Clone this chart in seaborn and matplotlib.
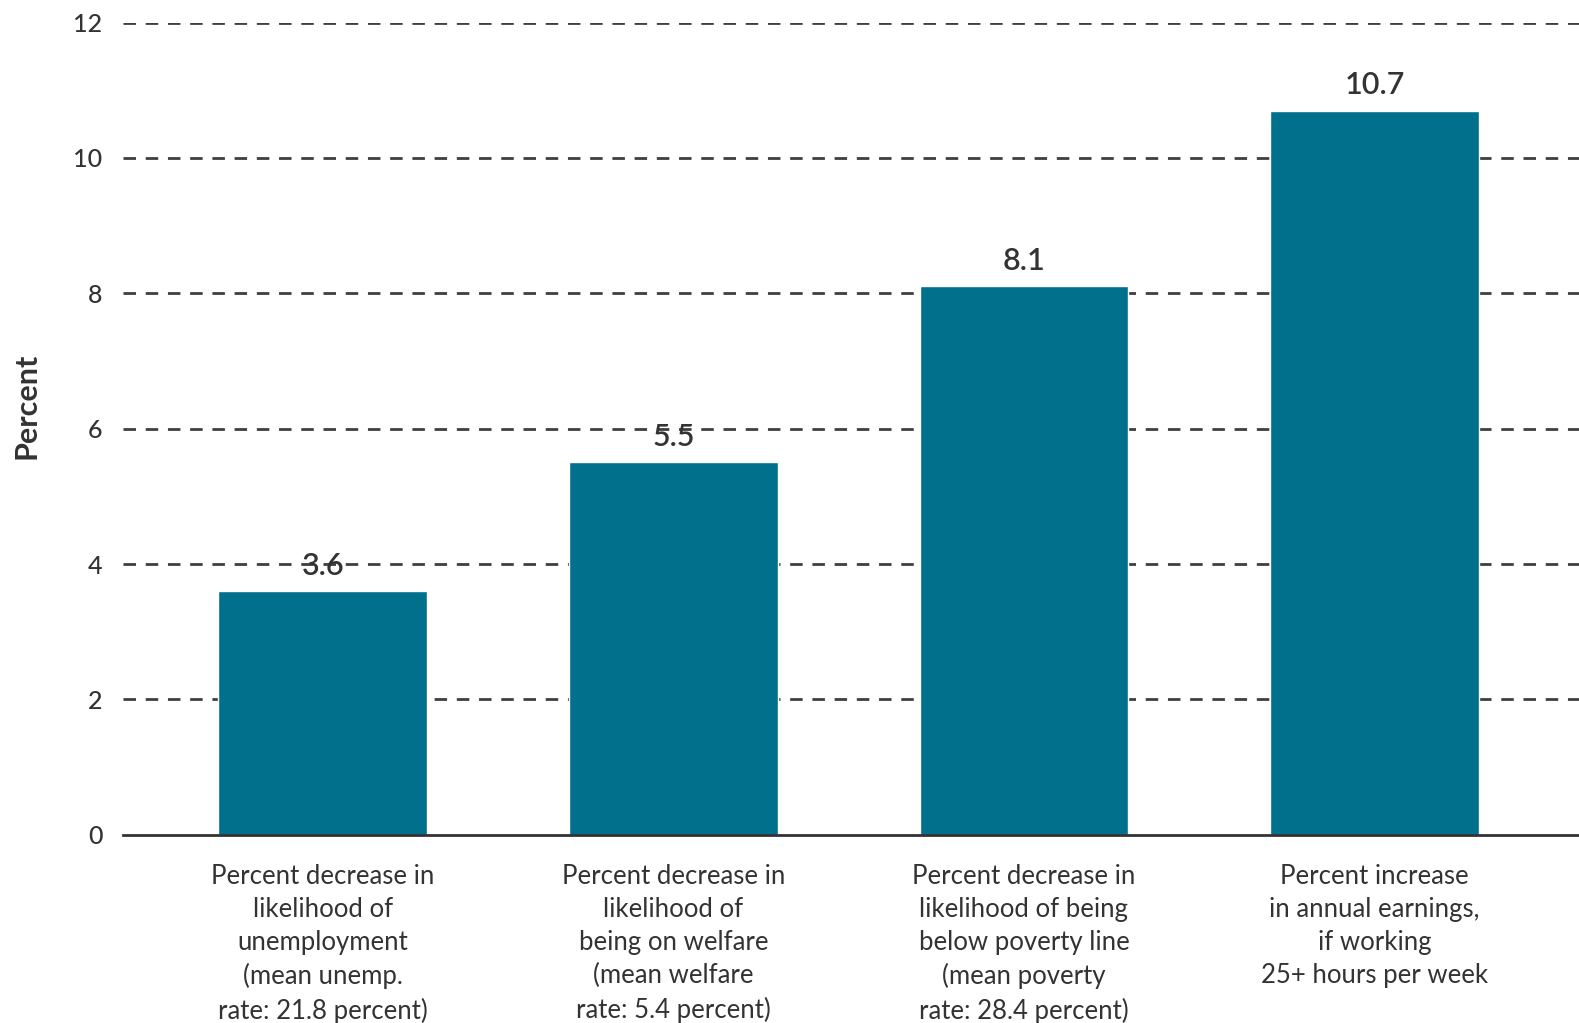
import matplotlib
matplotlib.use("Agg")
import matplotlib.pyplot as plt
import seaborn as sns
import pandas as pd

categories = [
    "Percent decrease in\nlikelihood of\nunemployment\n(mean unemp.\nrate: 21.8 percent)",
    "Percent decrease in\nlikelihood of\nbeing on welfare\n(mean welfare\nrate: 5.4 percent)",
    "Percent decrease in\nlikelihood of being\nbelow poverty line\n(mean poverty\nrate: 28.4 percent)",
    "Percent increase\nin annual earnings,\nif working\n25+ hours per week",
]
values = [3.6, 5.5, 8.1, 10.7]
value_labels = ["3.6", "5.5", "8.1", "10.7"]
yticks = [0, 2, 4, 6, 8, 10, 12]

sns.set_theme(style="white")
plt.rcParams["font.family"] = ["Lato", "DejaVu Sans"]

df = pd.DataFrame({"cat": categories, "val": values})

fig = plt.figure(figsize=(15.79, 10.23), dpi=100)
ax = fig.add_axes([0.078, 0.184, 0.922, 0.794])

for t in yticks[1:]:
    ax.axhline(t, color="#3f3f3f", lw=2, ls=(0, (4.5, 3.5)), zorder=0)

sns.barplot(data=df, x="cat", y="val", color="#00708C", saturation=1,
            width=0.595, ax=ax, zorder=2)

for i, (v, lab) in enumerate(zip(values, value_labels)):
    ax.annotate(lab, (i, v), xytext=(0, 8), textcoords="offset points",
                ha="center", va="bottom", fontsize=22, fontweight="semibold",
                color="#333333", zorder=3)

ax.set_xlim(-0.569, 3.583)
ax.set_ylim(0, 12)
ax.set_yticks(yticks)
ax.set_yticklabels([str(t) for t in yticks], fontsize=18, color="#333333",
                   fontweight="medium")
ax.tick_params(axis="y", length=0, pad=15)
ax.tick_params(axis="x", length=0, pad=21, labelsize=18.5, labelcolor="#333333")
for lab in ax.get_xticklabels():
    lab.set_linespacing(1.4)
ax.set_xlabel("")
ax.set_ylabel("Percent", fontsize=22, fontweight="bold", color="#333333")
ax.yaxis.set_label_coords(-0.057, 0.528)

for s in ["top", "right", "left"]:
    ax.spines[s].set_visible(False)
ax.spines["bottom"].set_color("#333333")
ax.spines["bottom"].set_linewidth(2)
ax.spines["bottom"].set_zorder(4)

fig.savefig("out.png", dpi=100, facecolor="white")
